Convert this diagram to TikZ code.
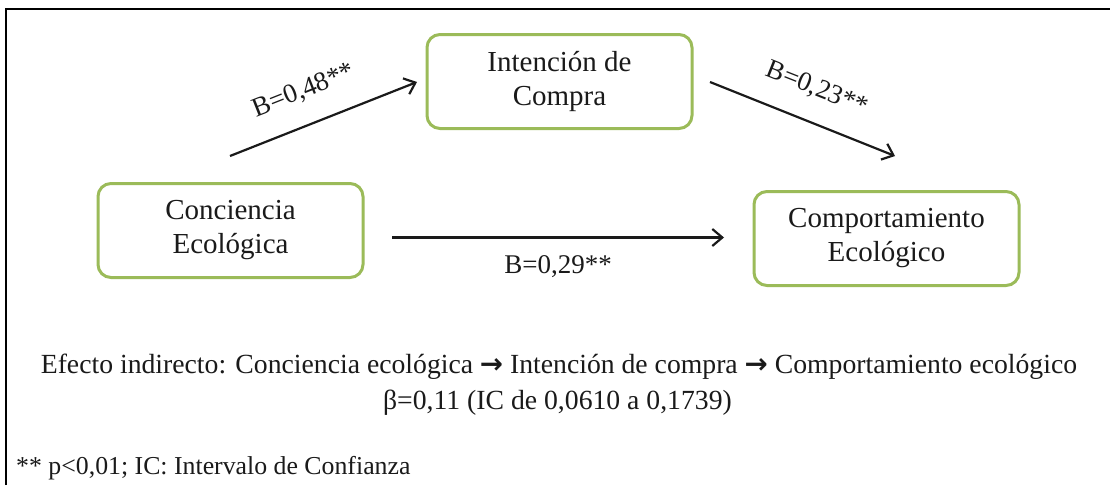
\documentclass[tikz,border=0pt]{standalone}
\usepackage{fontspec}
\setmainfont{Liberation Serif}
\newfontfamily\symf{DejaVu Sans}
\usetikzlibrary{arrows.meta}
\definecolor{boxgreen}{HTML}{9BBB59}
\definecolor{ink}{HTML}{1A1A1A}
\begin{document}
\begin{tikzpicture}[x=1pt,y=-1pt,
  var/.style={draw=boxgreen, line width=3pt, rounded corners=13pt, minimum width=265pt, minimum height=94pt, align=center, font=\fontsize{29}{34}\selectfont, text=ink, inner sep=0pt},
  conn/.style={-{Straight Barb[length=10pt,width=17pt]}, line width=2.2pt, draw=ink},
  lab/.style={font=\fontsize{27}{32}\selectfont, text=ink, inner sep=0pt},
  bot/.style={font=\fontsize{27.7}{32}\selectfont, text=ink, inner sep=0pt, anchor=base}]
\useasboundingbox (0,0) rectangle (1110,485);
\fill[white] (0,0) rectangle (1110,485);
\draw[line width=2.5pt, black] (6,485) -- (6,9) -- (1110,9);

\node[var] (ic) at (559.5,81.5) {Intención de\\Compra};
\node[var] (ce) at (230.5,230.5) {Conciencia\\Ecológica};
\node[var] (co) at (886.5,238.5) {Comportamiento\\Ecológico};

\coordinate (a1s) at (230,156);
\coordinate (a1e) at (417,82);
\coordinate (a2s) at (710,82);
\coordinate (a2e) at (895,156);
\coordinate (a3s) at (392,237.5);
\coordinate (a3e) at (724,237.5);

\draw[conn] (a1s) -- (a1e);
\draw[conn] (a2s) -- (a2e);
\draw[conn] (a3s) -- (a3e);

\node[lab, rotate=21.6] (l1) at (304,91) {B=0,48**};
\node[lab, rotate=-21.6] (l2) at (817,89) {B=0,23**};
\node[lab] (l3) at (558,267) {B=0,29**};

\node[bot] (t1) at (559,373) {Efecto indirecto: Conciencia ecológica {\symf\bfseries →} Intención de compra {\symf\bfseries →} Comportamiento ecológico};
\node[bot] (t2) at (557.5,409) {β=0,11 (IC de 0,0610 a 0,1739)};
\node[bot, anchor=base west, font=\fontsize{25.8}{30}\selectfont] (t3) at (16,474) {** p<0,01; IC: Intervalo de Confianza};
\end{tikzpicture}
\end{document}
